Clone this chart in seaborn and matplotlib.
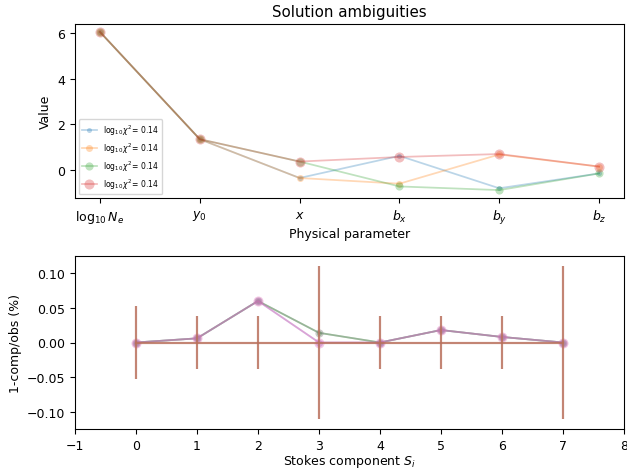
import numpy as np
import pandas as pd
import matplotlib
matplotlib.use("Agg")
import matplotlib.pyplot as plt
import seaborn as sns

# ---- data ----
params = [r'$\log_{10}N_e$', r'$y_0$', r'$x$', r'$b_x$', r'$b_y$', r'$b_z$']
sol1 = [6.05, 1.35, -0.35, 0.62, -0.80, -0.15]
sol2 = [6.05, 1.35, -0.35, -0.60, 0.68, 0.15]
sol3 = [6.05, 1.35, 0.37, -0.72, -0.88, -0.15]
sol4 = [6.05, 1.35, 0.37, 0.57, 0.70, 0.15]
chi_labels = [r'$\log_{10}\chi^2$= 0.14'] * 4

stokes = [0, 1, 2, 3, 4, 5, 6, 7]
obs_zero = [0, 0, 0, 0, 0, 0, 0, 0]
obs_err = [0.053, 0.038, 0.038, 0.110, 0.038, 0.038, 0.038, 0.110]
res1 = [0.0, 0.006, 0.060, 0.014, 0.0, 0.018, 0.008, 0.0]
res2 = [0.0, 0.006, 0.060, 0.0, 0.0, 0.018, 0.008, 0.0]
res3 = [0.0, 0.006, 0.060, 0.014, 0.0, 0.018, 0.008, 0.0]
res4 = [0.0, 0.006, 0.060, 0.0, 0.0, 0.018, 0.008, 0.0]

plt.rcParams['font.family'] = ['DejaVu Sans']
plt.rcParams['font.size'] = 9.2

W, H, DPI = 627, 471, 98
fig = plt.figure(figsize=(W / DPI, H / DPI), dpi=DPI)
ax1 = fig.add_axes([75/W, 1-199/H, (624-75)/W, (199-25)/H])
ax2 = fig.add_axes([75/W, 1-430/H, (624-75)/W, (430-257)/H])

pal = sns.color_palette("tab10")
sols = [sol1, sol2, sol3, sol4]
msizes = [3.7, 5.1, 6.0, 7.4]
for i, s in enumerate(sols):
    df = pd.DataFrame({"p": np.arange(len(params)), "v": s})
    sns.lineplot(data=df, x="p", y="v", ax=ax1, color=pal[i], alpha=0.3,
                 marker="o", markersize=msizes[i], markeredgewidth=0,
                 label=chi_labels[i], linewidth=1.3)
ax1.set_xticks(np.arange(len(params)))
ax1.set_xticklabels(params)
ax1.set_xlabel("Physical parameter", labelpad=1)
ax1.set_ylabel("Value")
ax1.set_title("Solution ambiguities")
ax1.set_yticks([0, 2, 4, 6])
ax1.legend(loc="lower left", fontsize=5.6)

# bottom panel
ax2.errorbar(stokes, obs_zero, yerr=obs_err, color="#b9705c", alpha=0.85,
             linewidth=1.6, elinewidth=1.6, zorder=3)
res_list = [res1, res2, res3, res4]
res_cols = [pal[2], pal[4], pal[7], pal[6]]
res_ms = [3.7, 5.1, 6.0, 7.4]
for i, r in enumerate(res_list):
    df = pd.DataFrame({"s": stokes, "r": r})
    sns.lineplot(data=df, x="s", y="r", ax=ax2, color=res_cols[i], alpha=0.4,
                 marker="o", markersize=res_ms[i], markeredgewidth=0,
                 linewidth=1.3, zorder=2)
ax2.set_xlim(-1, 8)
ax2.set_ylim(-0.125, 0.125)
ax2.set_xticks(np.arange(-1, 9))
ax2.set_yticks([-0.10, -0.05, 0.0, 0.05, 0.10])
ax2.set_yticklabels(["−0.10", "−0.05", "0.00", "0.05", "0.10"])
ax2.set_xticklabels(["−1"] + [str(i) for i in range(0, 9)])
ax2.set_xlabel(r"Stokes component $S_i$", labelpad=0.5)
ax2.set_ylabel("1-comp/obs (%)")

fig.savefig("out.png", dpi=DPI)
